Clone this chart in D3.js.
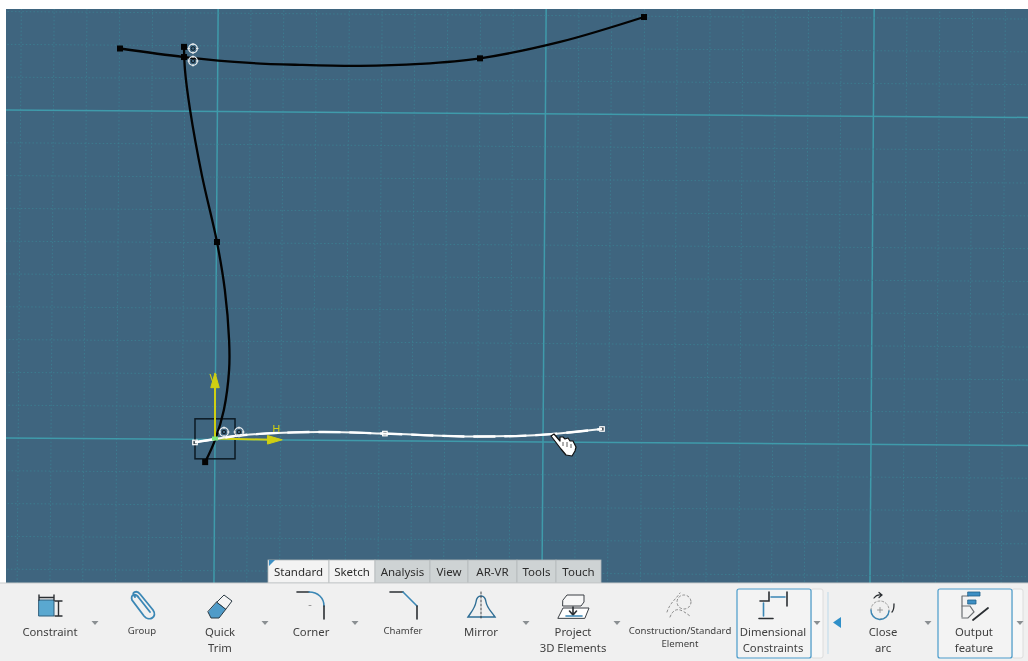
<!DOCTYPE html>
<html>
<head>
<meta charset="utf-8">
<script src="https://cdn.jsdelivr.net/npm/d3@7"></script>
<style>
  html, body { margin: 0; padding: 0; background: #fff; overflow: hidden; }
  svg { display: block; filter: blur(0.45px); }
  text { font-family: "Noto Sans", "Open Sans", sans-serif; fill: #3f3f3f; }
</style>
</head>
<body>
<div id="chart"></div>
<script>
// sketch curves, in grid units from the origin of the H/V axes
const arcTopU = [-2.896, -0.945, 1.067, 2.59, 4.42, 6.25, 8.08, 10.52, 13.08];
const arcTopV = [11.89, 11.63, 11.45, 11.39, 11.36, 11.42, 11.59, 12.09, 12.85];
const arcTopHandles = [0, 1, 6, 8];

const arcLeftU = [-0.945, -0.915, -0.76, -0.40, 0.06, 0.30, 0.43, 0.43, 0.27, 0, -0.30];
const arcLeftV = [11.94, 11.23, 10.02, 8.03, 5.99, 4.53, 3.0, 2.09, 0.87, -0.05, -0.72];
const arcLeftHandles = [0, 4, 10];

const arcWhiteU = [-0.61, 0, 1.07, 3.2, 5.18, 7.77, 9.91, 11.8];
const arcWhiteV = [-0.12, -0.015, 0.12, 0.2, 0.15, 0.06, 0.11, 0.29];
const arcWhiteHandles = [0, 4, 7];

const gridU = d3.range(-7, 26);
const gridV = d3.range(-5, 14);

const tabNames = ["Standard", "Sketch", "Analysis", "View", "AR-VR", "Tools", "Touch"];
const tabEdges = [268, 329, 375, 430, 468, 517, 556, 601];

const toolNames = [["Constraint"], ["Group"], ["Quick", "Trim"], ["Corner"], ["Chamfer"], ["Mirror"],
  ["Project", "3D Elements"], ["Construction/Standard", "Element"], ["Dimensional", "Constraints"],
  ["Close", "arc"], ["Output", "feature"]];
const toolSmall = ["Group", "Chamfer", "Construction/Standard"];
const toolCentres = [50, 142, 220, 311, 403, 481, 573, 680, 773, 883, 974];
const dropArrows = [95, 265, 355, 526, 617, 817, 928, 1020];

const width = 1028, height = 661;
const svg = d3.select("#chart").append("svg").attr("width", width).attr("height", height);
svg.append("rect").attr("width", width).attr("height", height).attr("fill", "#fff");

// viewport
const clip = svg.append("clipPath").attr("id", "view");
clip.append("rect").attr("x", 6).attr("y", 9).attr("width", 1022).attr("height", 574);
const view = svg.append("g").attr("clip-path", "url(#view)");
view.append("rect").attr("x", 6).attr("y", 9).attr("width", 1022).attr("height", 574).attr("fill", "#3f657f");

const unit = 32.8;
const x = d3.scaleLinear().domain([0, 1]).range([215, 215 + unit]);
const y = d3.scaleLinear().domain([0, 1]).range([438.5, 438.5 - unit]);

// grid is slightly tilted in the screenshot
const grid = view.append("g").attr("transform", "translate(0 1) rotate(0.42 215 438.5)");
grid.selectAll(".gv").data(gridU).enter().append("line")
  .attr("x1", d => x(d)).attr("x2", d => x(d))
  .attr("y1", y(14)).attr("y2", y(-6))
  .attr("stroke", d => d % 10 === 0 ? "#3f9bab" : "#3c7d90")
  .attr("stroke-width", d => d % 10 === 0 ? 1.5 : 0.9)
  .attr("stroke-dasharray", d => d % 10 === 0 ? null : "1.5 2.2");
grid.selectAll(".gh").data(gridV).enter().append("line")
  .attr("x1", x(-8)).attr("x2", x(27))
  .attr("y1", d => y(d)).attr("y2", d => y(d))
  .attr("stroke", d => d % 10 === 0 ? "#3f9bab" : "#3c7d90")
  .attr("stroke-width", d => d % 10 === 0 ? 1.5 : 0.9)
  .attr("stroke-dasharray", d => d % 10 === 0 ? null : "1.5 2.2");

const curve = d3.line().x(d => x(d[0])).y(d => y(d[1])).curve(d3.curveCatmullRom.alpha(0.5));

// axis box under the curves
view.append("rect").attr("x", x(-0.61)).attr("y", y(0.6)).attr("width", unit * 1.22).attr("height", unit * 1.22)
  .attr("fill", "none").attr("stroke", "#0c1a24").attr("stroke-width", 1.5);

function drawArc(us, vs, handles, stroke, w, handleFill, handleStroke, hs) {
  const pts = us.map((u, i) => [u, vs[i]]);
  view.append("path").attr("d", curve(pts)).attr("fill", "none").attr("stroke", stroke).attr("stroke-width", w);
  view.selectAll(null).data(handles.map(i => pts[i])).enter().append("rect")
    .attr("x", d => x(d[0]) - hs / 2).attr("y", d => y(d[1]) - hs / 2)
    .attr("width", hs).attr("height", hs)
    .attr("fill", handleFill).attr("stroke", handleStroke).attr("stroke-width", 1.2);
}
drawArc(arcTopU, arcTopV, arcTopHandles, "#030303", 2.3, "#030303", "none", 6);
drawArc(arcLeftU, arcLeftV, arcLeftHandles, "#030303", 2.3, "#030303", "none", 6);

// H / V axes
const axisCol = "#cfcf12";
const axes = view.append("g").attr("stroke", axisCol).attr("fill", axisCol);
axes.append("line").attr("x1", x(0)).attr("y1", y(0)).attr("x2", x(0)).attr("y2", y(1.75)).attr("stroke-width", 2);
axes.append("line").attr("x1", x(0)).attr("y1", y(0)).attr("x2", x(1.75)).attr("y2", y(-0.04)).attr("stroke-width", 2);
axes.append("path").attr("stroke-width", 1)
  .attr("d", `M${x(0)},${y(2)}L${x(0.13)},${y(1.55)}L${x(-0.13)},${y(1.55)}Z`);
axes.append("path").attr("stroke-width", 1)
  .attr("d", `M${x(2.05)},${y(-0.04)}L${x(1.6)},${y(0.09)}L${x(1.6)},${y(-0.17)}Z`);
view.append("text").attr("x", x(-0.06)).attr("y", y(1.7)).attr("font-size", 12).style("fill", axisCol).attr("text-anchor", "middle").text("V");
view.append("text").attr("x", x(1.87)).attr("y", y(0.17)).attr("font-size", 11).style("fill", axisCol).attr("text-anchor", "middle").text("H");

drawArc(arcWhiteU, arcWhiteV, arcWhiteHandles, "#f2f5f5", 2, "#46525a", "#fff", 4.5);
// thicker highlight pieces along the selected arc
view.append("path").attr("d", curve(arcWhiteU.map((u, i) => [u, arcWhiteV[i]]))).attr("fill", "none")
  .attr("stroke", "#fff").attr("stroke-width", 2.4).attr("stroke-dasharray", "22 9");
view.append("rect").attr("x", x(0) - 3).attr("y", y(0) - 2).attr("width", 6).attr("height", 4).attr("fill", "#7be67b");

// small coincidence/tangency marks
function mark(px, py) {
  const g = view.append("g").attr("transform", `translate(${px},${py})`).attr("fill", "none").attr("stroke", "#e8ecee");
  g.append("circle").attr("r", 4.3).attr("stroke-width", 1.3);
  g.append("circle").attr("r", 1.8).attr("stroke", "#101c25").attr("stroke-width", 1);
  g.append("path").attr("d", "M-5.5,0H-3M3,0H5.5M0,-5.5V-3M0,3V5.5").attr("stroke-width", 1);
}
[[193, 48.5], [193, 61], [224, 432], [239, 432]].forEach(d => mark(d[0], d[1]));

// hand cursor
view.append("path")
  .attr("d", "M551,436 L554,434 L560,441 L560,437 L563,437 L565,439 L568,438 L570,441 L573,441 L576,447 L575,451 L572,456 L566,455 L561,449 Z")
  .attr("fill", "#fff").attr("stroke", "#111").attr("stroke-width", 1.2).attr("stroke-linejoin", "round");
view.append("path").attr("d", "M563,442V446M567,442V447M571,444V448").attr("stroke", "#333").attr("stroke-width", 0.8);

// tab strip
svg.selectAll(".tab").data(tabNames).enter().append("rect")
  .attr("x", (d, i) => tabEdges[i]).attr("y", 560)
  .attr("width", (d, i) => tabEdges[i + 1] - tabEdges[i]).attr("height", 23)
  .attr("fill", (d, i) => i < 2 ? "#f3f3f3" : "#ced3d4").attr("stroke", "#b5b9bb").attr("stroke-width", 0.8);
svg.append("path").attr("d", "M269,560H275L269,566Z").attr("fill", "#3d8fc4");
svg.selectAll(".tabText").data(tabNames).enter().append("text")
  .attr("x", (d, i) => (tabEdges[i] + tabEdges[i + 1]) / 2).attr("y", 575.5)
  .attr("text-anchor", "middle").attr("font-size", 11.5).style("fill", "#2c2c2c").text(d => d);

// toolbar
svg.append("rect").attr("x", 0).attr("y", 583).attr("width", width).attr("height", 78).attr("fill", "#f0f0f0");
svg.append("line").attr("x1", 0).attr("x2", width).attr("y1", 583).attr("y2", 583).attr("stroke", "#c9cccd");

[[737, 811, 823], [938, 1012, 1023]].forEach(b => {
  svg.append("rect").attr("x", b[1]).attr("y", 589).attr("width", b[2] - b[1]).attr("height", 69).attr("rx", 2).attr("fill", "#f7f7f7").attr("stroke", "#dcdcdc");
  svg.append("rect").attr("x", b[0]).attr("y", 589).attr("width", b[1] - b[0]).attr("height", 69).attr("rx", 2).attr("fill", "#f3f3f3").attr("stroke", "#4a9ccb").attr("stroke-width", 1.2);
});
svg.append("line").attr("x1", 828).attr("x2", 828).attr("y1", 592).attr("y2", 654).attr("stroke", "#bcd9ea");
svg.append("path").attr("d", "M841,617V628L833,622.5Z").attr("fill", "#2f8fc8");

svg.selectAll(".drop").data(dropArrows).enter().append("path")
  .attr("d", d => `M${d - 3.5},621H${d + 3.5}L${d},625Z`).attr("fill", "#8a8f92");

toolNames.forEach((lines, i) => {
  const small = toolSmall.includes(lines[0]);
  lines.forEach((t, j) => {
    svg.append("text").attr("x", toolCentres[i]).attr("y", (small ? 633.5 : 635.5) + j * (small ? 13.5 : 16))
      .attr("text-anchor", "middle").attr("font-size", small ? 9.6 : 11.3).text(t);
  });
});

// toolbar icons
const blue = "#3b87b5", ink = "#2b2f33";
const ic = svg.append("g").attr("fill", "none").attr("stroke-linecap", "round");
function p(d, stroke, w, fill, dash) {
  ic.append("path").attr("d", d).attr("stroke", stroke).attr("stroke-width", w).attr("fill", fill || "none").attr("stroke-dasharray", dash || null);
}
// Constraint
p("M39,600H54V616H39Z", "#2f5e7c", 1, "#5aa8d0");
p("M39,595V600M54,595V600M39,597.5H54M55,601H62M55,616H62M58.5,601V616", ink, 1.4);
// Group
p("M135,597 C130,592 137,590 140,594 L153,610 C158,617 149,622 144,616 L132,600 C130,594 136,593 139,598 L150,612", blue, 1.8);
// Quick Trim
p("M217,602 L226,609 L219,618 L211,618 L208,612Z", "#2b3a44", 1, "#4f9bc8");
p("M217,602 L224,595 L232,601 L226,609Z", "#2b3a44", 1, "#f4f4f4");
// Corner
p("M297,592H309", ink, 1.6);
p("M309,592 C318,592 324,598 324,606", blue, 1.6);
p("M324,606V619", ink, 1.6);
p("M309,605.5h2", "#999", 1);
// Chamfer
p("M390,592H403", ink, 1.6);
p("M403,592L417,606", blue, 1.6);
p("M417,606V619", ink, 1.6);
// Mirror
p("M468,617 C472,611 475,608 476,602 C477,594 485,594 486,602 C487,608 491,611 495,617Z", "#2f6e95", 1.4);
p("M481,592V620", ink, 0.9, null, "2 2");
// Project
p("M563,600L567,595H584L584,602L581,606H563Z", "#3a3f44", 1, "#f7f7f7");
p("M558,618L563,608H589L585,618Z", "#3a3f44", 1, "#fff");
p("M573,607V614M569.5,611L573,615L576.5,611", ink, 1.6);
p("M566,616H582", blue, 1.6);
// Construction / standard
p("M667,612 C670,603 675,600 680,593", "#8c8c8c", 1, null, "2 2.5");
p("M670,617 C675,605 682,610 690,616", "#8c8c8c", 1, null, "2 2.5");
ic.append("circle").attr("cx", 684).attr("cy", 602).attr("r", 7).attr("stroke", "#8c8c8c").attr("stroke-dasharray", "2 2.5");
// Dimensional
p("M760,601H769V592M787,592V606", ink, 1.6);
p("M771,597H785", blue, 1.6);
p("M759,618.5H773", ink, 1.6);
p("M763.5,603V616", blue, 1.6);
// Close arc
ic.append("circle").attr("cx", 880).attr("cy", 610).attr("r", 9).attr("stroke", "#9a9a9a").attr("stroke-dasharray", "2 2");
p("M871,610 A9,9 0 0 0 889,611", blue, 1.4);
p("M874,598 Q877,594 881,595M879,592.5L882,595L879,597.5", ink, 1.2);
p("M894,604 Q894,610 892,612", ink, 1.3);
p("M877.5,610h5M880,607.5v5", "#999", 1);
// Output feature
p("M962,596H968M962,596V617", "#6b6f73", 1.2);
p("M968,592H980V596H968Z", "#225f88", 0.8, "#3d8fc4");
p("M968,600H976V604H968Z", "#225f88", 0.8, "#3d8fc4");
p("M962,606H970L974,612L968,618H962", "#6b6f73", 1.2);
p("M973,620L988,608", ink, 1.8);
</script>
</body>
</html>
